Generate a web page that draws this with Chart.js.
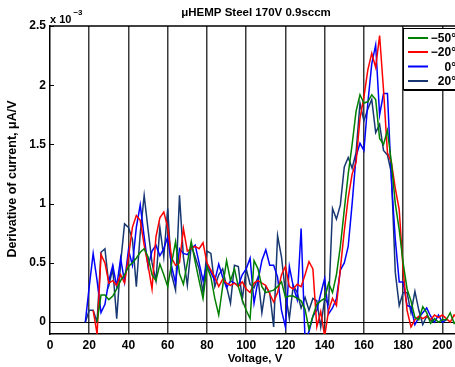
<!DOCTYPE html>
<html>
<head>
<meta charset="utf-8">
<script src="https://cdn.jsdelivr.net/npm/chart.js@4.4.1/dist/chart.umd.min.js"></script>
<style>
html,body{margin:0;padding:0;background:#fff;overflow:hidden;}
#wrap{position:relative;width:475px;height:367px;}
</style>
</head>
<body>
<div id="wrap"><canvas id="c"></canvas></div>
<script>
// ---- data (y in units of 1e-3 µA/V) ----
const voltage = [18,20,22,24,26,28,30,32,34,36,38,40,42,44,46,48,50,52,54,56,58,60,62,64,66,68,70,72,74,76,78,80,82,84,86,88,90,92,94,96,98,100,102,104,106,108,110,112,114,116,118,120,122,124,126,128,130,132,134,136,138,140,142,144,146,148,150,152,154,156,158,160,162,164,166,168,170,172,174,176,178,180,182,184,186,188,190,192,194,196,198,200,202,204,206,208,210];

const seriesM50 = [null,null,null,0.00,0.23,0.23,0.19,0.22,0.28,0.35,
  0.40,0.47,0.50,0.54,0.59,0.62,0.55,0.40,0.35,0.49,
  0.40,0.30,0.50,0.68,0.41,0.32,0.50,0.68,0.51,0.35,
  0.20,0.47,0.38,0.20,0.06,0.30,0.52,0.35,0.45,0.30,
  0.19,0.10,0.03,0.52,0.45,0.30,0.25,0.26,0.27,0.30,
  0.34,0.21,0.22,0.22,0.20,0.18,0.11,-0.06,0.05,0.15,
  0.18,0.20,0.33,0.25,0.40,0.64,0.95,1.25,1.50,1.78,
  1.92,1.85,1.86,1.92,1.88,1.55,1.50,1.62,1.35,1.00,
  0.78,0.50,0.28,0.18,0.04,0.02,0.13,0.08,-0.01,0.03,
  0.00,0.02,0.02,0.08,-0.01,0.02,0.01];

const seriesM20 = [null,null,0.10,-0.10,0.57,0.50,0.33,0.35,0.31,0.40,
  0.33,0.55,0.80,0.90,0.86,0.65,0.48,0.28,0.72,0.88,
  0.93,0.80,0.54,0.48,0.50,0.79,0.60,0.62,0.64,0.62,
  0.67,0.50,0.44,0.38,0.30,0.36,0.33,0.31,0.33,0.30,
  0.34,0.28,0.25,0.33,0.35,0.33,0.31,0.24,0.17,0.25,
  0.40,0.47,0.30,0.28,0.32,0.30,0.40,0.51,0.45,-0.04,
  0.09,-0.12,0.10,0.20,0.14,0.45,0.77,1.05,1.25,1.35,
  1.72,1.90,2.13,2.27,2.15,2.42,1.96,1.43,1.35,1.13,
  0.95,0.44,0.10,-0.04,0.02,0.05,0.03,0.05,0.02,0.06,
  0.04,0.06,0.03,0.00,0.06,0.03,0.05];

const series0 = [0.00,0.30,0.58,0.35,0.08,0.15,0.35,0.48,0.30,0.54,
  0.34,0.61,0.48,0.80,0.99,0.72,0.47,0.60,0.65,0.56,
  0.62,0.72,0.47,0.33,0.62,0.58,0.57,0.62,0.65,0.50,
  0.35,0.49,0.42,0.35,0.49,0.38,0.29,0.35,0.33,0.31,
  0.40,0.45,0.54,0.16,0.35,0.52,0.61,0.48,0.48,0.38,
  0.10,-0.04,0.47,0.30,0.19,0.79,-0.15,-0.08,0.05,0.10,
  0.24,0.37,0.07,0.12,0.20,0.44,0.50,0.64,1.00,1.40,
  1.51,1.45,1.85,2.18,2.34,1.75,1.93,1.93,1.20,0.70,
  0.34,0.34,0.14,0.13,-0.02,0.04,0.08,0.12,0.05,0.00,
  0.06,0.00,0.02,null,null,null,null];

const seriesP20 = [0.00,0.10,0.10,0.00,0.59,0.62,0.31,0.45,0.03,0.50,
  0.83,0.80,0.70,0.30,0.75,1.07,0.78,0.50,0.35,0.80,
  0.55,0.96,0.40,0.27,1.07,0.55,0.31,0.65,0.55,0.45,
  0.25,0.60,0.58,0.30,0.40,0.45,0.30,0.16,0.48,0.47,
  0.19,0.45,0.32,0.29,0.38,0.08,0.30,0.25,-0.04,0.73,
  0.55,0.25,0.03,0.31,0.25,0.12,0.21,0.10,0.20,0.18,
  -0.04,0.20,0.15,0.96,0.87,0.99,1.31,1.39,1.30,1.43,
  1.85,1.70,1.80,1.88,1.60,1.67,1.45,1.41,1.26,0.42,
  0.14,0.25,0.25,0.08,0.26,0.10,-0.02,0.05,0.02,0.00,
  null,null,null,null,null,null,null];

const seriesLabels = ['\u221250\u00b0','\u221220\u00b0','0\u00b0','20\u00b0'];
const seriesColors = ['#008000','#ff0000','#0000ff','#173771'];
const xTicks = [0,20,40,60,80,100,120,140,160,180,200];
const yTicks = [0,0.5,1,1.5,2,2.5];
const titleText = '\u03bcHEMP Steel 170V 0.9sccm';
const xTitle = 'Voltage, V';
const yTitle = 'Derivative of current, \u03bcA/V';

const allSeries = [seriesM50, seriesM20, series0, seriesP20];
const FONT = '"Liberation Sans", Arial, Helvetica, sans-serif';

const datasets = allSeries.map((vals, k) => ({
  label: seriesLabels[k],
  data: voltage.map((v, i) => ({x: v, y: vals[i]})),
  borderColor: seriesColors[k],
  backgroundColor: seriesColors[k],
  borderWidth: 1.5,
  pointRadius: 0,
  tension: 0,
  spanGaps: false,
  fill: false
}));

const decor = {
  id: 'decor',
  afterDraw(chart) {
    const ctx = chart.ctx;
    const a = chart.chartArea;
    const ys = chart.scales.y;
    ctx.save();
    // top border
    ctx.strokeStyle = '#000';
    ctx.lineWidth = 1.5;
    ctx.beginPath();
    ctx.moveTo(a.left, a.top);
    ctx.lineTo(a.right, a.top);
    ctx.stroke();
    // inward y ticks
    ctx.lineWidth = 1;
    yTicks.forEach(v => {
      const py = Math.round(ys.getPixelForValue(v)) + 0.5;
      ctx.beginPath();
      ctx.moveTo(a.left, py);
      ctx.lineTo(a.left + 4, py);
      ctx.stroke();
    });
    // title
    ctx.fillStyle = '#000';
    ctx.font = 'bold 11.5px ' + FONT;
    ctx.textAlign = 'center';
    ctx.textBaseline = 'alphabetic';
    ctx.fillText(titleText, (a.left + a.right) / 2, 16);
    // multiplier
    ctx.textAlign = 'left';
    ctx.font = 'bold 11px ' + FONT;
    ctx.fillText('x 10', a.left, 23);
    const w = ctx.measureText('x 10').width;
    ctx.font = 'bold 8px ' + FONT;
    ctx.fillText('\u22123', a.left + w + 2, 15);
    // x title
    ctx.font = 'bold 11.5px ' + FONT;
    ctx.textAlign = 'center';
    ctx.fillText(xTitle, 255, 362);
    // y title
    ctx.save();
    ctx.font = 'bold 12.5px ' + FONT;
    ctx.translate(16, 179);
    ctx.rotate(-Math.PI / 2);
    ctx.fillText(yTitle, 0, 0);
    ctx.restore();
    // legend
    const lx = 403.5, ly = 28.5, lw = 70, lh = 61;
    ctx.fillStyle = '#fff';
    ctx.fillRect(lx, ly, lw, lh);
    ctx.strokeStyle = '#000';
    ctx.lineWidth = 1;
    ctx.strokeRect(lx, ly, lw, lh);
    ctx.lineWidth = 2;
    ctx.beginPath();
    ctx.moveTo(lx, ly + lh + 0.5);
    ctx.lineTo(lx + lw, ly + lh + 0.5);
    ctx.stroke();
    const rowY = [38, 52, 66.5, 81];
    chart.data.datasets.forEach((ds, k) => {
      ctx.strokeStyle = ds.borderColor;
      ctx.lineWidth = 2;
      ctx.beginPath();
      ctx.moveTo(408, rowY[k]);
      ctx.lineTo(428, rowY[k]);
      ctx.stroke();
      ctx.fillStyle = '#000';
      ctx.font = 'bold 12px ' + FONT;
      ctx.textAlign = 'right';
      ctx.textBaseline = 'middle';
      ctx.fillText(ds.label, 456, rowY[k] + 1);
    });
    ctx.restore();
  }
};

new Chart(document.getElementById('c'), {
  type: 'line',
  data: { datasets },
  options: {
    responsive: true,
    maintainAspectRatio: false,
    animation: false,
    devicePixelRatio: 1,
    layout: { padding: { left: 0, top: 26, right: 13, bottom: 0 } },
    plugins: { legend: { display: false }, title: { display: false }, tooltip: { enabled: false } },
    scales: {
      x: {
        type: 'linear', min: 0, max: 210,
        afterFit: s => { s.height = 33; },
        afterBuildTicks: s => { s.ticks = xTicks.map(v => ({value: v})); },
        ticks: { includeBounds: false, padding: 4, color: '#000', maxRotation: 0,
                 font: { family: FONT, size: 12, weight: 'bold' },
                 callback: v => String(v) },
        grid: { drawTicks: false, lineWidth: 1.5,
                color: c => (c.tick && c.tick.value !== 0) ? '#3a3a3a' : 'rgba(0,0,0,0)' },
        border: { display: true, color: '#000', width: 1.5 }
      },
      y: {
        type: 'linear', min: -0.1, max: 2.5,
        afterFit: s => { s.width = 50; },
        afterBuildTicks: s => { s.ticks = yTicks.map(v => ({value: v})); },
        ticks: { includeBounds: false, padding: 4, color: '#000',
                 font: { family: FONT, size: 12, weight: 'bold' },
                 callback: v => String(v) },
        grid: { drawTicks: false, lineWidth: 1,
                color: c => (c.tick && c.tick.value === 0) ? '#000' : 'rgba(0,0,0,0)' },
        border: { display: true, color: '#000', width: 1.5 }
      }
    }
  },
  plugins: [decor]
});
</script>
</body>
</html>
